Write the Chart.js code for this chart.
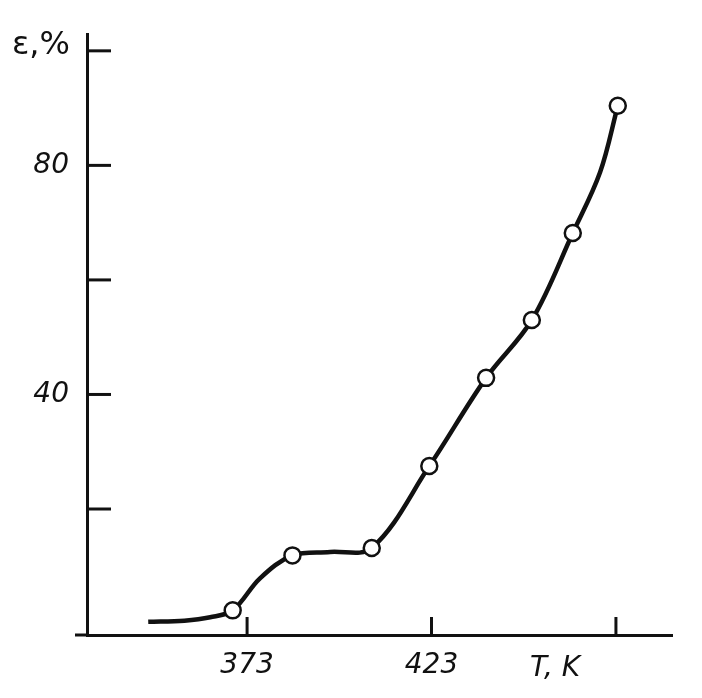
<!DOCTYPE html>
<html>
<head>
<meta charset="utf-8">
<script src="https://cdn.jsdelivr.net/npm/chart.js@4.4.1/dist/chart.umd.min.js"></script>
<style>
  html, body { margin: 0; padding: 0; background: #fff; }
  #wrap { width: 702px; height: 698px; }
</style>
</head>
<body>
<div id="wrap"><canvas id="chart" width="702" height="698"></canvas></div>
<script>
// measured points (T in K, strain in %)
const pointT = [369.1, 385.3, 406.8, 422.4, 437.8, 450.2, 461.3, 473.5]
const pointEps = [2.3, 11.9, 13.2, 27.5, 42.9, 53.0, 68.2, 90.4]

// hand-drawn curve
const curveT = [346.2, 356.0, 363.0, 369.1, 376.5, 385.3, 395.5, 406.8, 422.4, 437.8, 450.2, 461.3, 468.7, 473.5]
const curveEps = [0.3, 0.5, 1.1, 2.3, 7.9, 11.9, 12.5, 13.2, 27.5, 42.9, 53.0, 68.2, 78.8, 90.4]

const xTicks = [373, 423, 473]
const xTickLabels = ["373", "423", ""]
const yTicks = [20, 40, 60, 80, 100]
const yTickLabels = { 40: "40", 80: "80" }

const ink = "#111"
const numFont = { family: "DejaVu Sans", size: 28, style: "italic" }

const toXY = (xs, ys) => xs.map((x, i) => ({ x, y: ys[i] }))

const innerTicks = {
  id: "innerTicks",
  afterDraw(chart) {
    const { ctx, chartArea, scales } = chart
    ctx.save()
    ctx.strokeStyle = ink
    ctx.lineWidth = 3
    yTicks.forEach((v) => {
      const y = scales.y.getPixelForValue(v)
      ctx.beginPath()
      ctx.moveTo(chartArea.left, y)
      ctx.lineTo(chartArea.left + 24, y)
      ctx.stroke()
    })
    xTicks.forEach((v) => {
      const x = scales.x.getPixelForValue(v)
      ctx.beginPath()
      ctx.moveTo(x, chartArea.bottom)
      ctx.lineTo(x, chartArea.bottom - 18)
      ctx.stroke()
    })
    // x axis runs a bit past the y axis on the left
    ctx.beginPath()
    ctx.moveTo(chartArea.left - 12, chartArea.bottom)
    ctx.lineTo(chartArea.left, chartArea.bottom)
    ctx.stroke()

    ctx.fillStyle = ink
    ctx.textBaseline = "middle"
    ctx.textAlign = "center"
    ctx.font = "italic 28px 'DejaVu Sans'"
    ctx.fillText("T, K", scales.x.getPixelForValue(456.5), 669)
    ctx.textAlign = "left"
    ctx.font = "32px 'DejaVu Sans'"
    ctx.fillText("ε,%", 12, 46)
    ctx.restore()
  }
}

new Chart(document.getElementById("chart"), {
  type: "scatter",
  data: {
    datasets: [
      {
        data: toXY(pointT, pointEps),
        showLine: false,
        pointRadius: 8,
        pointHoverRadius: 8,
        pointBackgroundColor: "#fff",
        pointBorderColor: ink,
        pointBorderWidth: 2.5,
        order: 0
      },
      {
        data: toXY(curveT, curveEps),
        showLine: true,
        borderColor: ink,
        borderWidth: 4.5,
        pointRadius: 0,
        tension: 0.35,
        order: 1
      }
    ]
  },
  options: {
    responsive: false,
    animation: false,
    layout: { padding: { top: 32, right: 30, left: 15, bottom: 0 } },
    plugins: { legend: { display: false }, tooltip: { enabled: false } },
    scales: {
      x: {
        type: "linear",
        min: 329.6,
        max: 488.2,
        afterBuildTicks: (s) => { s.ticks = xTicks.map((value) => ({ value })) },
        afterFit: (s) => { s.height = 63 },
        grid: { display: false, drawTicks: false },
        border: { display: true, color: ink, width: 3 },
        ticks: {
          color: ink,
          font: numFont,
          padding: 14,
          maxRotation: 0,
          callback: (v) => xTickLabels[xTicks.indexOf(v)] ?? ""
        }
      },
      y: {
        min: -2,
        max: 102.8,
        afterBuildTicks: (s) => { s.ticks = yTicks.map((value) => ({ value })) },
        afterFit: (s) => { s.width = 72 },
        grid: { display: false, drawTicks: false },
        border: { display: true, color: ink, width: 3 },
        ticks: {
          color: ink,
          font: numFont,
          padding: 18,
          callback: (v) => yTickLabels[v] ?? ""
        }
      }
    }
  },
  plugins: [innerTicks]
})
</script>
</body>
</html>
